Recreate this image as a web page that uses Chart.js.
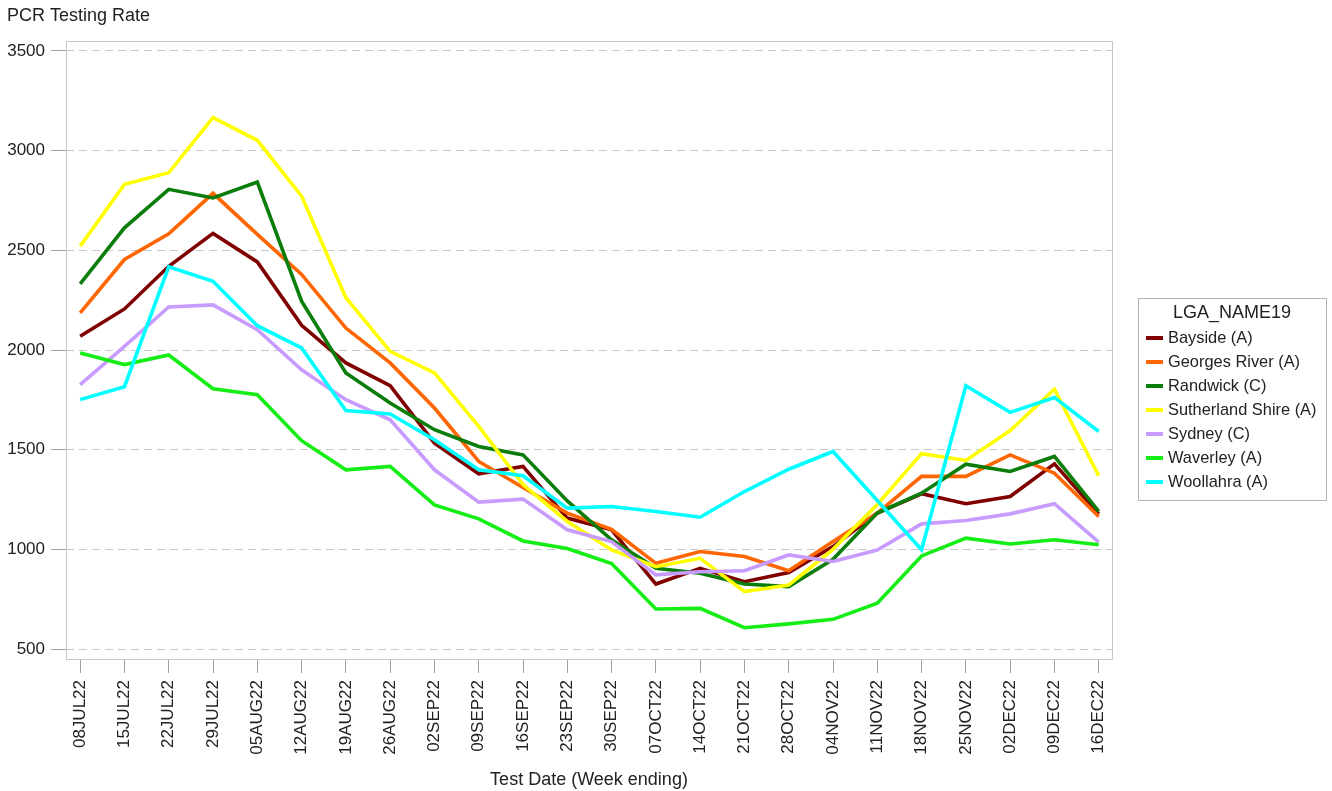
<!DOCTYPE html>
<html>
<head>
<meta charset="utf-8">
<title>PCR Testing Rate</title>
<script src="https://cdn.jsdelivr.net/npm/chart.js@4.4.1/dist/chart.umd.min.js"></script>
<style>
    html, body { margin: 0; padding: 0; background: #fff; }
    #wrap { width: 1332px; height: 791px; }
</style>
</head>
<body>
<div id="wrap"><canvas id="chart" width="1332" height="791"></canvas></div>
<script>
// PCR testing rate per LGA, weekly

const dates = [
    '08JUL22', '15JUL22', '22JUL22', '29JUL22', '05AUG22', '12AUG22', '19AUG22', '26AUG22',
    '02SEP22', '09SEP22', '16SEP22', '23SEP22', '30SEP22', '07OCT22', '14OCT22', '21OCT22',
    '28OCT22', '04NOV22', '11NOV22', '18NOV22', '25NOV22', '02DEC22', '09DEC22', '16DEC22'
];

const yTicks = [500, 1000, 1500, 2000, 2500, 3000, 3500];

const lgaNames = [
    'Bayside (A)', 'Georges River (A)', 'Randwick (C)', 'Sutherland Shire (A)',
    'Sydney (C)', 'Waverley (A)', 'Woollahra (A)'
];

const bayside     = [2069, 2206, 2420, 2585, 2442, 2124, 1935, 1821, 1533, 1379, 1416, 1157, 1098, 826, 905, 838, 884, 1014, 1182, 1279, 1229, 1265, 1429, 1178];
const georgesRiver = [2186, 2454, 2583, 2786, 2580, 2379, 2110, 1935, 1709, 1441, 1310, 1182, 1100, 930, 989, 964, 893, 1039, 1182, 1366, 1366, 1474, 1382, 1165];
const randwick    = [2332, 2613, 2806, 2763, 2842, 2245, 1885, 1734, 1600, 1516, 1474, 1243, 1048, 905, 880, 826, 813, 950, 1182, 1282, 1427, 1391, 1466, 1190];
const sutherland  = [2521, 2831, 2889, 3166, 3052, 2772, 2262, 1993, 1885, 1617, 1325, 1140, 997, 913, 955, 788, 821, 1000, 1225, 1480, 1446, 1596, 1804, 1369];
const sydney      = [1826, 2018, 2216, 2226, 2102, 1901, 1751, 1650, 1399, 1237, 1252, 1098, 1039, 872, 888, 893, 972, 939, 997, 1128, 1145, 1178, 1229, 1036];
const waverley    = [1985, 1927, 1975, 1806, 1776, 1545, 1399, 1416, 1223, 1153, 1042, 1004, 929, 701, 704, 607, 626, 649, 730, 967, 1056, 1027, 1048, 1023];
const woollahra   = [1751, 1816, 2417, 2345, 2122, 2010, 1696, 1679, 1550, 1399, 1369, 1207, 1215, 1190, 1161, 1290, 1402, 1491, 1245, 998, 1821, 1687, 1762, 1591];

const seriesValues = [bayside, georgesRiver, randwick, sutherland, sydney, waverley, woollahra];

const lineColors = [
    '#800000', // Bayside
    '#ff6600', // Georges River
    '#0a7d0a', // Randwick
    '#ffff00', // Sutherland Shire
    '#c89bff', // Sydney
    '#14ee14', // Waverley
    '#00ffff'  // Woollahra
];

const textColor = '#222';
const fontFamily = '"Liberation Sans", Arial, sans-serif';

// Frame round the plot area (top and right too)
const plotFrame = {
    id: 'plotFrame',
    beforeDatasetsDraw(chart) {
        const { ctx, chartArea: a } = chart;
        ctx.save();
        ctx.strokeStyle = '#c8c8c8';
        ctx.lineWidth = 1;
        ctx.strokeRect(Math.round(a.left) + 0.5, Math.round(a.top) + 0.5,
            Math.round(a.right - a.left), Math.round(a.bottom - a.top));
        ctx.restore();
    }
};

// Boxed legend with a title, like the SAS output
const boxedLegend = {
    id: 'boxedLegend',
    afterDraw(chart) {
        const { ctx, chartArea } = chart;
        const sets = chart.data.datasets;
        const rowH = 24;
        const left = chartArea.right + 26;
        const width = 188;
        const height = 40 + (sets.length - 1) * rowH + 18;
        const top = Math.round(chart.height / 2 - height / 2 + 3);

        ctx.save();
        ctx.strokeStyle = '#b4b4b4';
        ctx.lineWidth = 1;
        ctx.strokeRect(left + 0.5, top + 0.5, width, height);

        ctx.fillStyle = textColor;
        ctx.textBaseline = 'middle';
        ctx.textAlign = 'center';
        ctx.font = '18px ' + fontFamily;
        ctx.fillText('LGA_NAME19', left + width / 2, top + 15);

        ctx.textAlign = 'left';
        ctx.font = '16.4px ' + fontFamily;
        sets.forEach((ds, i) => {
            const y = top + 40 + i * rowH;
            ctx.strokeStyle = ds.borderColor;
            ctx.lineWidth = 4;
            ctx.beginPath();
            ctx.moveTo(left + 8, y);
            ctx.lineTo(left + 25, y);
            ctx.stroke();
            ctx.fillStyle = textColor;
            ctx.fillText(ds.label, left + 30, y);
        });
        ctx.restore();
    }
};

const datasets = lgaNames.map((name, i) => ({
    label: name,
    data: seriesValues[i].map((v, j) => ({ x: j, y: v })),
    borderColor: lineColors[i],
    backgroundColor: lineColors[i],
    borderWidth: 3.6,
    pointRadius: 0,
    tension: 0,
    fill: false,
    order: lgaNames.length - i // later series on top
}));

new Chart(document.getElementById('chart'), {
    type: 'line',
    data: { datasets },
    options: {
        responsive: false,
        animation: false,
        layout: { padding: { left: 7, right: 220, top: 0, bottom: 0 } },
        plugins: {
            legend: { display: false },
            tooltip: { enabled: false },
            title: {
                display: true,
                text: 'PCR Testing Rate',
                align: 'start',
                color: textColor,
                font: { family: fontFamily, size: 18, weight: 'normal' },
                padding: { top: 5, bottom: 14.4 }
            }
        },
        scales: {
            x: {
                type: 'linear',
                min: -0.32,
                max: 23.3,
                afterBuildTicks: (scale) => { scale.ticks = dates.map((d, i) => ({ value: i })); },
                afterFit: (scale) => { scale.height = 132; },
                ticks: {
                    autoSkip: false,
                    minRotation: 90,
                    maxRotation: 90,
                    padding: 7,
                    color: textColor,
                    font: { family: fontFamily, size: 17 },
                    callback: (v) => dates[v]
                },
                grid: {
                    drawOnChartArea: false,
                    drawTicks: true,
                    tickLength: 14,
                    tickColor: '#a0a0a0'
                },
                border: { display: false },
                title: {
                    display: true,
                    text: 'Test Date (Week ending)',
                    color: textColor,
                    font: { family: fontFamily, size: 18 },
                    padding: { top: 0, bottom: 0 }
                }
            },
            y: {
                min: 450,
                max: 3550,
                afterBuildTicks: (scale) => { scale.ticks = yTicks.map(v => ({ value: v })); },
                afterFit: (scale) => { scale.width = 59; },
                ticks: {
                    padding: 6,
                    color: textColor,
                    font: { family: fontFamily, size: 17 },
                    callback: (v) => String(v)
                },
                grid: {
                    color: '#c8c8c8',
                    lineWidth: 1,
                    tickLength: 15,
                    tickColor: '#a0a0a0',
                    tickBorderDash: []
                },
                border: { display: false, dash: [8, 5] }
            }
        }
    },
    plugins: [plotFrame, boxedLegend]
});
</script>
</body>
</html>
